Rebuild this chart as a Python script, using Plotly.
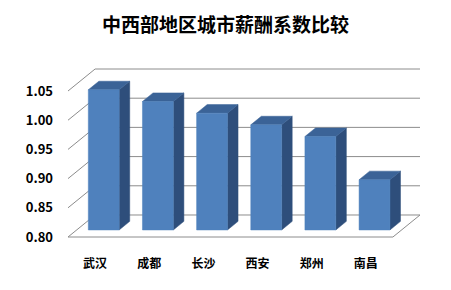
import plotly.graph_objects as go

# ---- data ----
categories = ["武汉", "成都", "长沙", "西安", "郑州", "南昌"]
values = [1.04, 1.02, 1.00, 0.98, 0.96, 0.886]
y_ticks = [0.80, 0.85, 0.90, 0.95, 1.00, 1.05]
y_tick_labels = ["0.80", "0.85", "0.90", "0.95", "1.00", "1.05"]
chart_title = "中西部地区城市薪酬系数比较"

# ---- style / 3D projection constants ----
W, H = 451, 290
PX_CAT = 54.17      # px per category
PX_VAL = 584.0      # px per value unit
DX, DY = 0.5, 0.0377  # full-depth oblique offset (data units)
F0, FD = 0.32, 0.39   # bar front depth fraction, bar depth fraction
BW = 0.57
Y0 = y_ticks[0]
FRONT, TOP, SIDE, GRID = "#4F81BD", "#3B6397", "#2E4E7B", "#8C8C8C"
FONT = "Noto Sans CJK SC, sans-serif"
PAD = 6

n = len(categories)
fig = go.Figure()

def line(xs, ys):
    fig.add_trace(go.Scatter(x=xs, y=ys, mode="lines",
                             line=dict(color=GRID, width=1),
                             hoverinfo="skip", showlegend=False))

# walls: left-wall diagonals + back-wall gridlines
for t in y_ticks:
    line([-0.5, -0.5 + DX, n - 0.5 + DX], [t, t + DY, t + DY])
# floor front and right edges
line([-0.5, n - 0.5, n - 0.5 + DX], [Y0, Y0, Y0 + DY])

def poly(xs, ys, color):
    fig.add_trace(go.Scatter(x=xs, y=ys, mode="lines", fill="toself",
                             fillcolor=color, line=dict(color=color, width=0.5),
                             hoverinfo="skip", showlegend=False))

for i, v in enumerate(values):
    x0 = i - BW / 2 + F0 * DX
    x1 = x0 + BW
    yb = Y0 + F0 * DY
    yt = v + F0 * DY
    ddx, ddy = FD * DX, FD * DY
    poly([x1, x1 + ddx, x1 + ddx, x1, x1], [yb, yb + ddy, yt + ddy, yt, yb], SIDE)
    poly([x0, x1, x1 + ddx, x0 + ddx, x0], [yt, yt, yt + ddy, yt + ddy, yt], TOP)
    poly([x0, x1, x1, x0, x0], [yb, yb, yt, yt, yb], FRONT)

xr = [-0.5 - PAD / PX_CAT, n - 0.5 + DX + PAD / PX_CAT]
yr = [Y0 - PAD / PX_VAL, y_ticks[-1] + DY + PAD / PX_VAL]

left_px = 68 - PAD
right_px = left_px + (xr[1] - xr[0]) * PX_CAT
bottom_px = 237 + PAD
top_px = bottom_px - (yr[1] - yr[0]) * PX_VAL

fig.update_layout(
    width=W, height=H,
    margin=dict(l=left_px, r=W - right_px, t=top_px, b=H - bottom_px),
    paper_bgcolor="white", plot_bgcolor="white",
    font=dict(family=FONT, color="#000000"),
    title=dict(text=chart_title, x=0.5, xanchor="center",
               y=1 - 25 / H, yanchor="middle", yref="container",
               font=dict(family=FONT, size=19, weight="bold", color="#000000")),
    xaxis=dict(range=xr, tickmode="array", tickvals=list(range(n)),
               ticktext=categories, showgrid=False, zeroline=False,
               showline=False, ticks="", ticklabelstandoff=12,
               tickfont=dict(family=FONT, size=12, weight="bold")),
    yaxis=dict(range=yr, tickmode="array", tickvals=y_ticks,
               ticktext=y_tick_labels, showgrid=False, zeroline=False,
               showline=False, ticks="", ticklabelstandoff=8,
               tickfont=dict(family=FONT, size=13, weight="bold")),
)

fig.write_html("out.html")
